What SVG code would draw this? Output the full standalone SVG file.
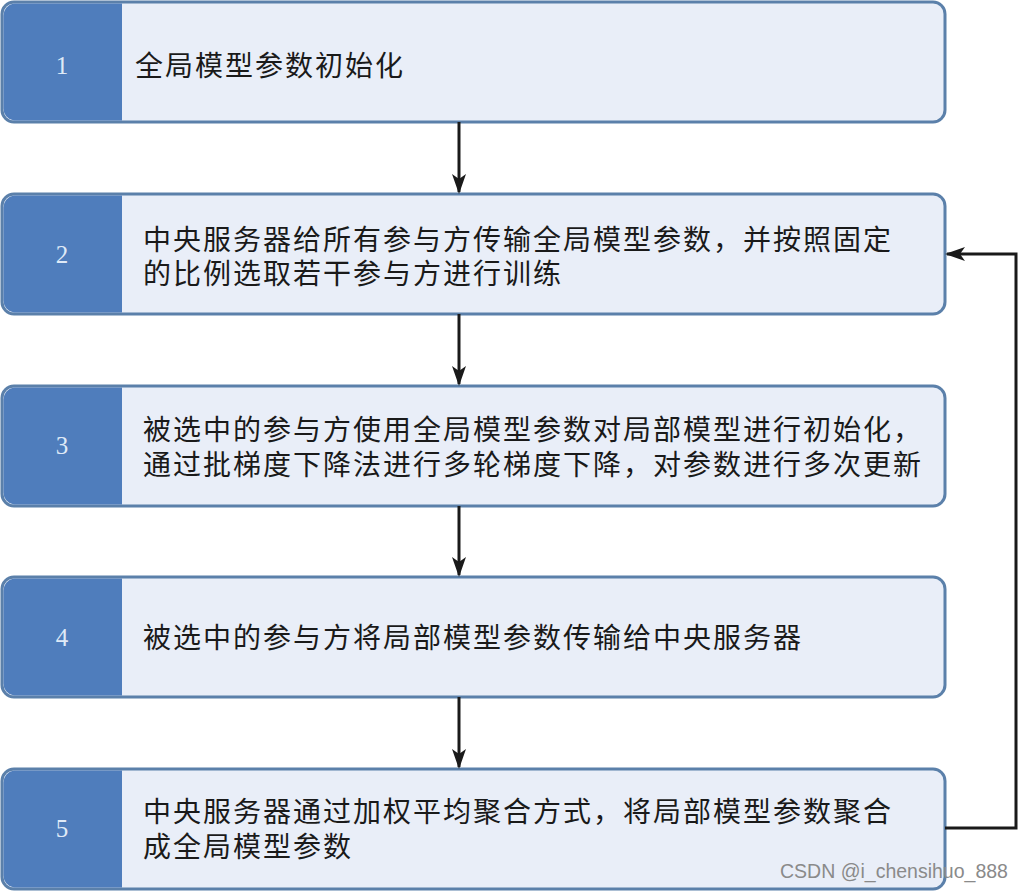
<svg xmlns="http://www.w3.org/2000/svg" width="1020" height="891" viewBox="0 0 1020 891">
<defs>
<style>
.box{fill:#e9eef8;stroke:#5b80aa;stroke-width:3}
.tab{fill:#4f7dbc}
.num{font-family:"Liberation Serif",serif;font-size:25px;fill:#dfeaf7;text-anchor:middle}
.txt{font-family:"Liberation Serif","Noto Sans CJK SC",serif;font-size:28px;letter-spacing:2px;fill:#1a1a1a}
.conn{stroke:#1a1a1a;stroke-width:3;fill:none}
.wm{font-family:"Liberation Sans",sans-serif;font-size:19.5px;fill:#8a8a8a}
</style>
<marker id="ah" viewBox="0 0 20 20" refX="18" refY="10" markerWidth="20" markerHeight="20" markerUnits="userSpaceOnUse" orient="auto">
<path d="M0,3 L20,10 L0,17 L5,10 Z" fill="#1a1a1a"/>
</marker>
</defs>
<rect width="1020" height="891" fill="#ffffff"/>
<g id="node1">
<rect class="box" x="2" y="2" width="943" height="120" rx="12"/>
<path class="tab" d="M14,3.5 H122 V120.5 H14 A12,12 0 0 1 3.5,108.5 V15.5 A12,12 0 0 1 14,3.5 Z"/>
<text class="num" x="62" y="74">1</text>
<text class="txt" x="135" y="76">全局模型参数初始化</text>
</g>
<g id="node2">
<rect class="box" x="2" y="194" width="943" height="120" rx="12"/>
<path class="tab" d="M14,195.5 H122 V312.5 H14 A12,12 0 0 1 3.5,300.5 V207.5 A12,12 0 0 1 14,195.5 Z"/>
<text class="num" x="62" y="263">2</text>
<text class="txt" x="143" y="250">中央服务器给所有参与方传输全局模型参数，并按照固定</text>
<text class="txt" x="143" y="284">的比例选取若干参与方进行训练</text>
</g>
<g id="node3">
<rect class="box" x="2" y="386" width="943" height="120" rx="12"/>
<path class="tab" d="M14,387.5 H122 V504.5 H14 A12,12 0 0 1 3.5,492.5 V399.5 A12,12 0 0 1 14,387.5 Z"/>
<text class="num" x="62" y="454">3</text>
<text class="txt" x="143" y="440">被选中的参与方使用全局模型参数对局部模型进行初始化，</text>
<text class="txt" x="143" y="475">通过批梯度下降法进行多轮梯度下降，对参数进行多次更新</text>
</g>
<g id="node4">
<rect class="box" x="2" y="577" width="943" height="120" rx="12"/>
<path class="tab" d="M14,578.5 H122 V695.5 H14 A12,12 0 0 1 3.5,683.5 V590.5 A12,12 0 0 1 14,578.5 Z"/>
<text class="num" x="62" y="646">4</text>
<text class="txt" x="143" y="648">被选中的参与方将局部模型参数传输给中央服务器</text>
</g>
<g id="node5">
<rect class="box" x="2" y="769" width="943" height="120" rx="12"/>
<path class="tab" d="M14,770.5 H122 V887.5 H14 A12,12 0 0 1 3.5,875.5 V782.5 A12,12 0 0 1 14,770.5 Z"/>
<text class="num" x="62" y="837">5</text>
<text class="txt" x="143" y="822">中央服务器通过加权平均聚合方式，将局部模型参数聚合</text>
<text class="txt" x="143" y="857">成全局模型参数</text>
</g>
<g id="connectors">
<line class="conn" x1="459" y1="122" x2="459" y2="192" marker-end="url(#ah)"/>
<line class="conn" x1="459" y1="314" x2="459" y2="384" marker-end="url(#ah)"/>
<line class="conn" x1="459" y1="506" x2="459" y2="575" marker-end="url(#ah)"/>
<line class="conn" x1="459" y1="697" x2="459" y2="767" marker-end="url(#ah)"/>
<polyline class="conn" points="945,828 1016,828 1016,254 947,254" marker-end="url(#ah)"/>
</g>
<text class="wm" x="780" y="878">CSDN @i_chensihuo_888</text>
</svg>
